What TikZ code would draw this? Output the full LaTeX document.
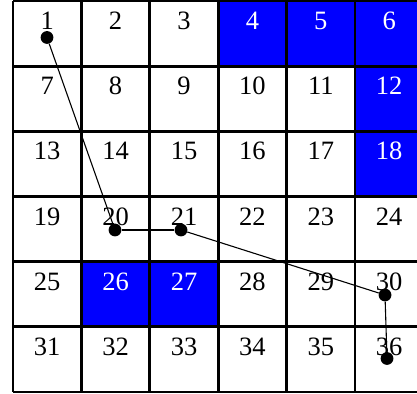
\documentclass[tikz,border=0pt]{standalone}
\usepackage{fontspec}
\setmainfont{Liberation Serif}
\definecolor{cellblue}{RGB}{0,0,255}
\begin{document}
\begin{tikzpicture}[x=1pt,y=1pt,
  gridline/.style={line width=2.8pt},
  numlabel/.style={font=\fontsize{26.5}{26.5}\selectfont, anchor=base, inner sep=0pt},
  bluecell/.style={fill=cellblue},
  dotnode/.style={circle, fill=black, minimum size=12.8pt, inner sep=0pt},
  linkline/.style={line width=1.1pt}]
\useasboundingbox (0,0) rectangle (417,393);
\clip (0,0) rectangle (417,393);
% blue cells
\foreach \ci/\rj in {3/0,4/0,5/0,5/1,5/2,1/4,2/4}{
  \fill[bluecell] ({13+68.4*\ci},{392-65.17*\rj}) rectangle ({13+68.4*(\ci+1)},{392-65.17*(\rj+1)});
}
% grid lines
\foreach \ci in {0,...,6}{
  \draw[gridline] ({13+68.4*\ci},392) -- ({13+68.4*\ci},{392-65.17*6});
}
\foreach \rj in {0,...,6}{
  \draw[gridline] (13,{392-65.17*\rj}) -- ({13+68.4*6},{392-65.17*\rj});
}
% numbers
\foreach \n in {1,...,36}{
  \pgfmathtruncatemacro\ci{mod(\n-1,6)}
  \pgfmathtruncatemacro\rj{int((\n-1)/6)}
  \pgfmathtruncatemacro\isblue{(\n>3 && \n<7) || \n==12 || \n==18 || \n==26 || \n==27}
  \ifnum\isblue=1 \def\tc{white}\else\def\tc{black}\fi
  \node[numlabel, text=\tc] (c\n) at ({13+68.4*(\ci+0.5)},{392-65.17*\rj-28.5}) {\n};
}
% dots
\node[dotnode] (d1) at (47,355.5) {};
\node[dotnode] (d20) at (115,163) {};
\node[dotnode] (d21) at (181,163) {};
\node[dotnode] (d30) at (385,98) {};
\node[dotnode] (d36) at (387,34.5) {};
\draw[linkline] (d1) -- (d20);
\draw[linkline] (d20) -- (d21);
\draw[linkline] (d21) -- (d30);
\draw[linkline] (d30) -- (d36);
\end{tikzpicture}
\end{document}
